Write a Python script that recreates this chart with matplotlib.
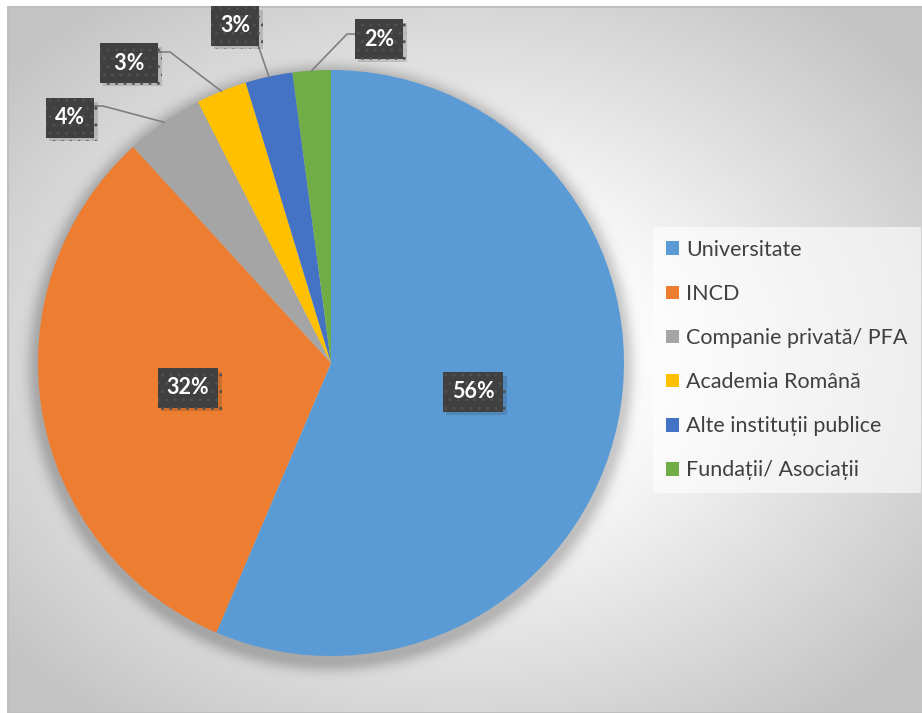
import matplotlib
matplotlib.use("Agg")
import matplotlib.pyplot as plt
import matplotlib.patheffects as pe
from matplotlib.patches import Patch, Rectangle
import numpy as np

# data
categories = ["Universitate", "INCD", "Companie privată/ PFA", "Academia Română",
              "Alte instituții publice", "Fundații/ Asociații"]
shares = [56.4, 31.8, 4.3, 2.8, 2.6, 2.1]
pct_labels = ["56%", "32%", "4%", "3%", "3%", "2%"]
colors = ["#5B9BD5", "#ED7D31", "#A5A5A5", "#FFC000", "#4472C4", "#70AD47"]

plt.rcParams['font.family'] = ['Lato', 'DejaVu Sans']

W, H = 922, 713
R = 293.0           # pie radius, pixels
CX, CY = 331, 363   # pie centre, pixels from top-left


def px(x, y):
    # pixel position -> data units of the pie axes
    return ((x - CX) / R, (CY - y) / R)


# label layout (pixel positions of box centres), leader line points
label_pos = [px(473, 392), px(188, 388), px(70, 118), px(129, 63), px(235, 26), px(379, 39)]
label_pad = ["", "", "", " ", "", ""]
leaders = {2: [px(92, 106), px(103, 106)],
           3: [px(159, 52), px(170, 52)],
           4: [px(257, 42)],
           5: [px(358, 34), px(347, 34)]}

fig = plt.figure(figsize=(W / 100, H / 100), dpi=100, facecolor="white")
ax = fig.add_axes([0, 0, 1, 1])

# background: radial grey gradient + soft pie shadow
yy, xx = np.mgrid[0:H, 0:W] + 0.5
u = (xx - 461) / 461
v = (yy - 360) / 357
r = np.sqrt(u ** 2 + v ** 2) / np.sqrt(2)
g = 1 - 0.23 * np.clip((r - 0.25) / 0.65, 0, 1)
d = np.hypot(xx - CX, yy - (CY + 5)) - R
g = g - 0.2 * np.exp(-(np.clip(d, 0, None) / 11.0) ** 2)
img = np.dstack([g, g, g])[7:, 8:]
x0, y0 = px(8, 713)
x1, y1 = px(922, 7)
ax.imshow(img, extent=(x0, x1, y0, y1), zorder=0, interpolation="bilinear")

wedges, _ = ax.pie(shares, colors=colors, startangle=90, counterclock=False,
                   radius=1.0, wedgeprops=dict(linewidth=0))
for w in wedges:
    w.set_zorder(2)

ax.set_xlim(-CX / R, (W - CX) / R)
ax.set_ylim(-(H - CY) / R, CY / R)
ax.set_aspect("auto")
ax.axis("off")

# border of chart area
ax.add_patch(Rectangle((x0, y0), x1 - x0 + 1, y1 - y0, facecolor="none",
                       edgecolor="#bfbfbf", linewidth=1.5, zorder=1))

# leader lines
for i, pts in leaders.items():
    w = wedges[i]
    mid = np.deg2rad((w.theta1 + w.theta2) / 2)
    anchor = (np.cos(mid), np.sin(mid))
    xs = [p[0] for p in pts] + [anchor[0]]
    ys = [p[1] for p in pts] + [anchor[1]]
    ax.plot(xs, ys, color="#7f7f7f", linewidth=1.2, zorder=3)

# data labels
for (lx, ly), t, p in zip(label_pos, pct_labels, label_pad):
    txt = ax.text(lx, ly, p + t + p, ha="center", va="center", fontsize=15.5,
                  fontweight="bold", color="white", zorder=5,
                  bbox=dict(boxstyle="square,pad=0.42", facecolor="#404040",
                            edgecolor="#505050", linewidth=0, hatch=".."))
    txt.get_bbox_patch().set_path_effects(
        [pe.SimplePatchShadow(offset=(2.5, -2.5), alpha=0.15), pe.Normal()])

handles = [Patch(facecolor=c, edgecolor="none") for c in colors]
leg = ax.legend(handles, categories, loc="upper left",
                bbox_to_anchor=(653 / W, 1 - 227 / H), bbox_transform=fig.transFigure,
                frameon=True, fancybox=False, framealpha=0.6, facecolor="white",
                edgecolor="none", fontsize=15.5, labelspacing=1.12,
                handlelength=0.6, handleheight=0.6, handletextpad=0.35,
                borderpad=0.6, borderaxespad=0)
for t in leg.get_texts():
    t.set_color("#404040")

fig.savefig("out.png", dpi=100, facecolor="white")
